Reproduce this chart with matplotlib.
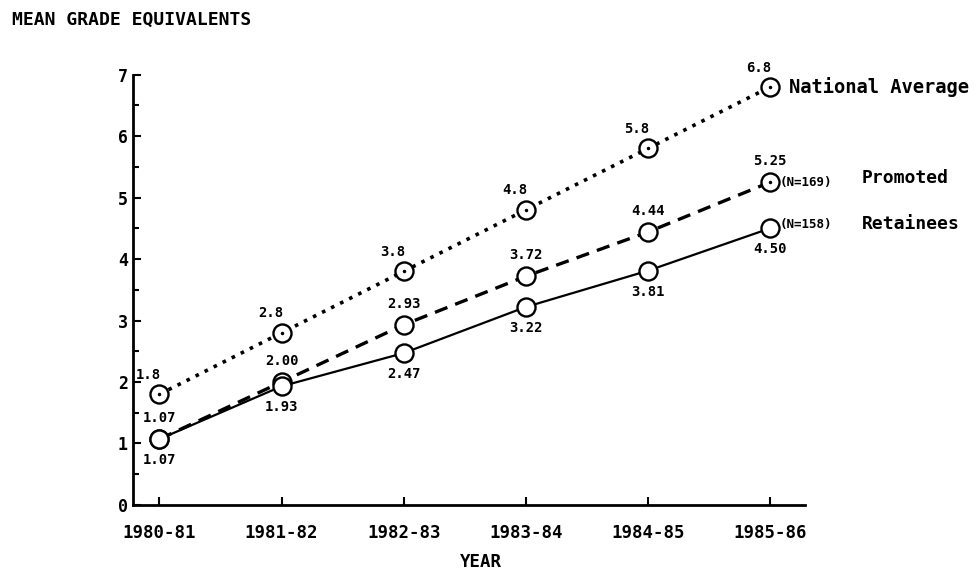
import matplotlib
matplotlib.use('Agg')
import matplotlib.pyplot as plt
import numpy as np

plt.rcParams['font.family'] = 'DejaVu Sans Mono'
plt.rcParams['font.weight'] = 'bold'

years = ['1980-81', '1981-82', '1982-83', '1983-84', '1984-85', '1985-86']
national = [1.8, 2.8, 3.8, 4.8, 5.8, 6.8]
promoted = [1.07, 2.00, 2.93, 3.72, 4.44, 5.25]
retainees = [1.07, 1.93, 2.47, 3.22, 3.81, 4.50]
national_labels = ['1.8', '2.8', '3.8', '4.8', '5.8', '6.8']
promoted_labels = ['1.07', '2.00', '2.93', '3.72', '4.44', '5.25']
retainees_labels = ['1.07', '1.93', '2.47', '3.22', '3.81', '4.50']

fig = plt.figure(figsize=(9.75, 5.75), dpi=100)
ax = fig.add_axes([0.136, 0.122, 0.69, 0.748])
x = np.arange(len(years))

mk = dict(marker='o', markersize=13, markerfacecolor='white',
          markeredgecolor='black', markeredgewidth=1.7, color='black')
ax.plot(x, national, linestyle=(0, (1, 1.8)), lw=2.6, zorder=3, **mk)
ax.plot(x, promoted, linestyle=(0, (4, 2.5)), lw=2.4, zorder=3, **mk)
ax.plot(x, retainees, linestyle='-', lw=1.6, zorder=3, **mk)
# centre dots on national average markers
ax.plot(x, national, linestyle='none', marker='.', markersize=3, color='black', zorder=4)
ax.plot(x[-1], promoted[-1], linestyle='none', marker='.', markersize=3, color='black', zorder=4)

fs = 10
for i in range(len(x)):
    ax.annotate(national_labels[i], (x[i], national[i]), xytext=(-8, 9),
                textcoords='offset points', ha='center', va='bottom', fontsize=fs)
    ax.annotate(promoted_labels[i], (x[i], promoted[i]), xytext=(0, 10),
                textcoords='offset points', ha='center', va='bottom', fontsize=fs)
    ax.annotate(retainees_labels[i], (x[i], retainees[i]), xytext=(0, -10),
                textcoords='offset points', ha='center', va='top', fontsize=fs)

ax.annotate('National Average', (x[-1], national[-1]), xytext=(14, 0),
            textcoords='offset points', ha='left', va='center', fontsize=13.5)
ax.annotate('(N=169)', (x[-1], promoted[-1]), xytext=(7, 0),
            textcoords='offset points', ha='left', va='center', fontsize=9)
ax.annotate('Promoted', (x[-1], promoted[-1]), xytext=(66, 3),
            textcoords='offset points', ha='left', va='center', fontsize=13)
ax.annotate('(N=158)', (x[-1], retainees[-1]), xytext=(7, 3),
            textcoords='offset points', ha='left', va='center', fontsize=9)
ax.annotate('Retainees', (x[-1], retainees[-1]), xytext=(66, 3),
            textcoords='offset points', ha='left', va='center', fontsize=13)

ax.set_xlim(-0.22, 5.29)
ax.set_ylim(0, 7)
ax.set_xticks(x)
ax.set_xticklabels(years, fontsize=12.5)
ax.set_yticks(range(8))
ax.set_yticklabels([str(v) for v in range(8)], fontsize=12)
ax.set_yticks(np.arange(0.5, 7, 1), minor=True)
ax.tick_params(axis='both', direction='in', length=6, width=1.5)
ax.tick_params(axis='y', which='minor', direction='in', length=4, width=1.5)
ax.tick_params(axis='x', pad=14)

for s in ['top', 'right']:
    ax.spines[s].set_visible(False)
for s in ['left', 'bottom']:
    ax.spines[s].set_linewidth(2)

fig.text(0.012, 0.965, 'MEAN GRADE EQUIVALENTS', fontsize=13, ha='left', va='center')
fig.text(0.493, 0.022, 'YEAR', fontsize=12.5, ha='center', va='center')

fig.savefig('out.png', dpi=100)
